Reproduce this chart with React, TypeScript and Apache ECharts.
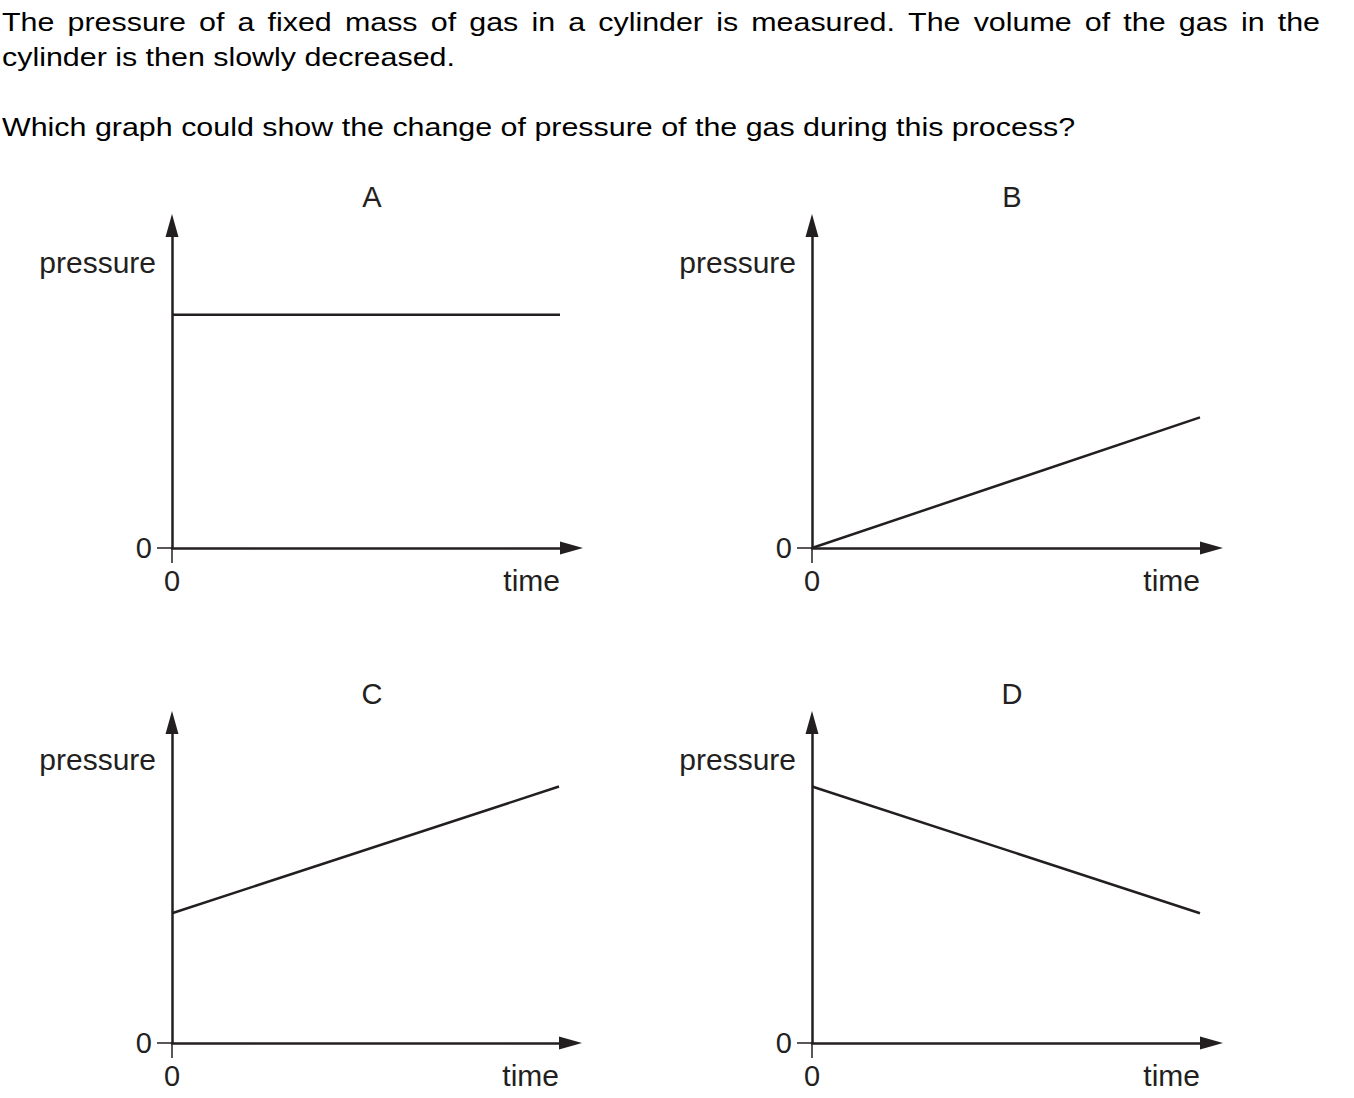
import React, { useEffect, useRef } from "react";
import * as echarts from "echarts";

// ---- data ----
const panelNames = ["A", "B", "C", "D"];
const timeValues = [0, 100];
const pressureA = [75, 75];
const pressureB = [0, 42];
const pressureC = [42, 83];
const pressureD = [83, 42];
const seriesValues = [pressureA, pressureB, pressureC, pressureD];
const zeroTicks = [0];
const axisXName = "time";
const axisYName = "pressure";
const questionLine1 =
  "The pressure of a fixed mass of gas in a cylinder is measured. The volume of the gas in the";
const questionLine2 = "cylinder is then slowly decreased.";
const questionLine3 =
  "Which graph could show the change of pressure of the gas during this process?";

const INK = "#231f20";
const FONT = '"Liberation Sans", Arial, sans-serif';
const QFONT_SIZE = 26;
const QSCALE = 1.17;
const LFONT_SIZE = 30;
const ZFONT_SIZE = 29;

// panel layout (grids)
const grids = [
  { left: 172, top: 237, width: 388, height: 311 },
  { left: 812, top: 237, width: 388, height: 311 },
  { left: 172, top: 734, width: 387, height: 309 },
  { left: 812, top: 734, width: 388, height: 309 },
];

function measure(text: string, size: number) {
  const c = document.createElement("canvas").getContext("2d")!;
  c.font = `${size}px "Liberation Sans", Arial, sans-serif`;
  return c.measureText(text).width;
}

function qText(text: string, x: number, y: number) {
  return {
    type: "text",
    x,
    y,
    scaleX: QSCALE,
    style: {
      text,
      fill: "#000",
      font: `${QFONT_SIZE}px ${FONT}`,
      textAlign: "left",
      textVerticalAlign: "middle",
    },
  };
}

function justifiedLine(text: string, x0: number, x1: number, y: number) {
  const words = text.split(" ");
  const widths = words.map((w) => measure(w, QFONT_SIZE) * QSCALE);
  const total = widths.reduce((a, b) => a + b, 0);
  const gap = (x1 - x0 - total) / (words.length - 1);
  let x = x0;
  return words.map((w, i) => {
    const el = qText(w, x, y);
    x += widths[i] + gap;
    return el;
  });
}

export default function App() {
  const ref = useRef<HTMLDivElement>(null);
  useEffect(() => {
    document.body.style.margin = "0";
    const chart = echarts.init(ref.current!, undefined, { renderer: "svg" });

    const axisLine = {
      show: true,
      onZero: false,
      symbol: ["none", "triangle"],
      symbolSize: [13, 23],
      symbolOffset: [0, 11.5],
      lineStyle: { color: INK, width: 2.5 },
    };
    const axisTick = {
      show: true,
      customValues: zeroTicks,
      length: 15,
      lineStyle: { color: INK, width: 1.5 },
    };

    const xAxes = grids.map((_, i) => ({
      type: "value",
      gridIndex: i,
      min: 0,
      max: 100,
      splitLine: { show: false },
      axisLine,
      axisTick,
      axisLabel: {
        show: true,
        customValues: zeroTicks,
        margin: 18,
        color: INK,
        fontFamily: FONT,
        fontSize: ZFONT_SIZE,
      },
      name: axisXName,
      nameLocation: "end",
      nameGap: 0,
      nameTextStyle: {
        color: INK,
        fontFamily: FONT,
        fontSize: LFONT_SIZE,
        align: "right",
        verticalAlign: "top",
        padding: [17, 0, 0, 0],
      },
    }));

    const yAxes = grids.map((_, i) => ({
      type: "value",
      gridIndex: i,
      min: 0,
      max: 100,
      splitLine: { show: false },
      axisLine,
      axisTick,
      axisLabel: {
        show: true,
        customValues: zeroTicks,
        margin: 20,
        color: INK,
        fontFamily: FONT,
        fontSize: ZFONT_SIZE,
      },
      name: axisYName,
      nameLocation: "end",
      nameGap: -25,
      nameTextStyle: {
        color: INK,
        fontFamily: FONT,
        fontSize: LFONT_SIZE,
        align: "right",
        verticalAlign: "middle",
        padding: [0, 16, 0, 0],
      },
    }));

    const series = seriesValues.map((vals, i) => ({
      type: "line",
      xAxisIndex: i,
      yAxisIndex: i,
      showSymbol: false,
      silent: true,
      lineStyle: { color: INK, width: 2.5 },
      data: timeValues.map((t, j) => [t, vals[j]]),
    }));

    const titles = grids.map((g, i) => ({
      text: panelNames[i],
      left: g.left + 195,
      top: g.top - 60,
      textAlign: "center",
      textStyle: {
        color: INK,
        fontFamily: FONT,
        fontSize: ZFONT_SIZE,
        fontWeight: "normal",
      },
    }));

    const graphics = [
      ...justifiedLine(questionLine1, 2, 1320, 22),
      qText(questionLine2, 2, 57),
      qText(questionLine3, 2, 127),
    ];

    chart.setOption({
      animation: false,
      backgroundColor: "#fff",
      title: titles,
      grid: grids.map((g) => ({ ...g, containLabel: false })),
      xAxis: xAxes,
      yAxis: yAxes,
      series,
      graphic: graphics,
    } as any);

    return () => chart.dispose();
  }, []);
  return <div ref={ref} style={{ width: 1354, height: 1098 }} />;
}
